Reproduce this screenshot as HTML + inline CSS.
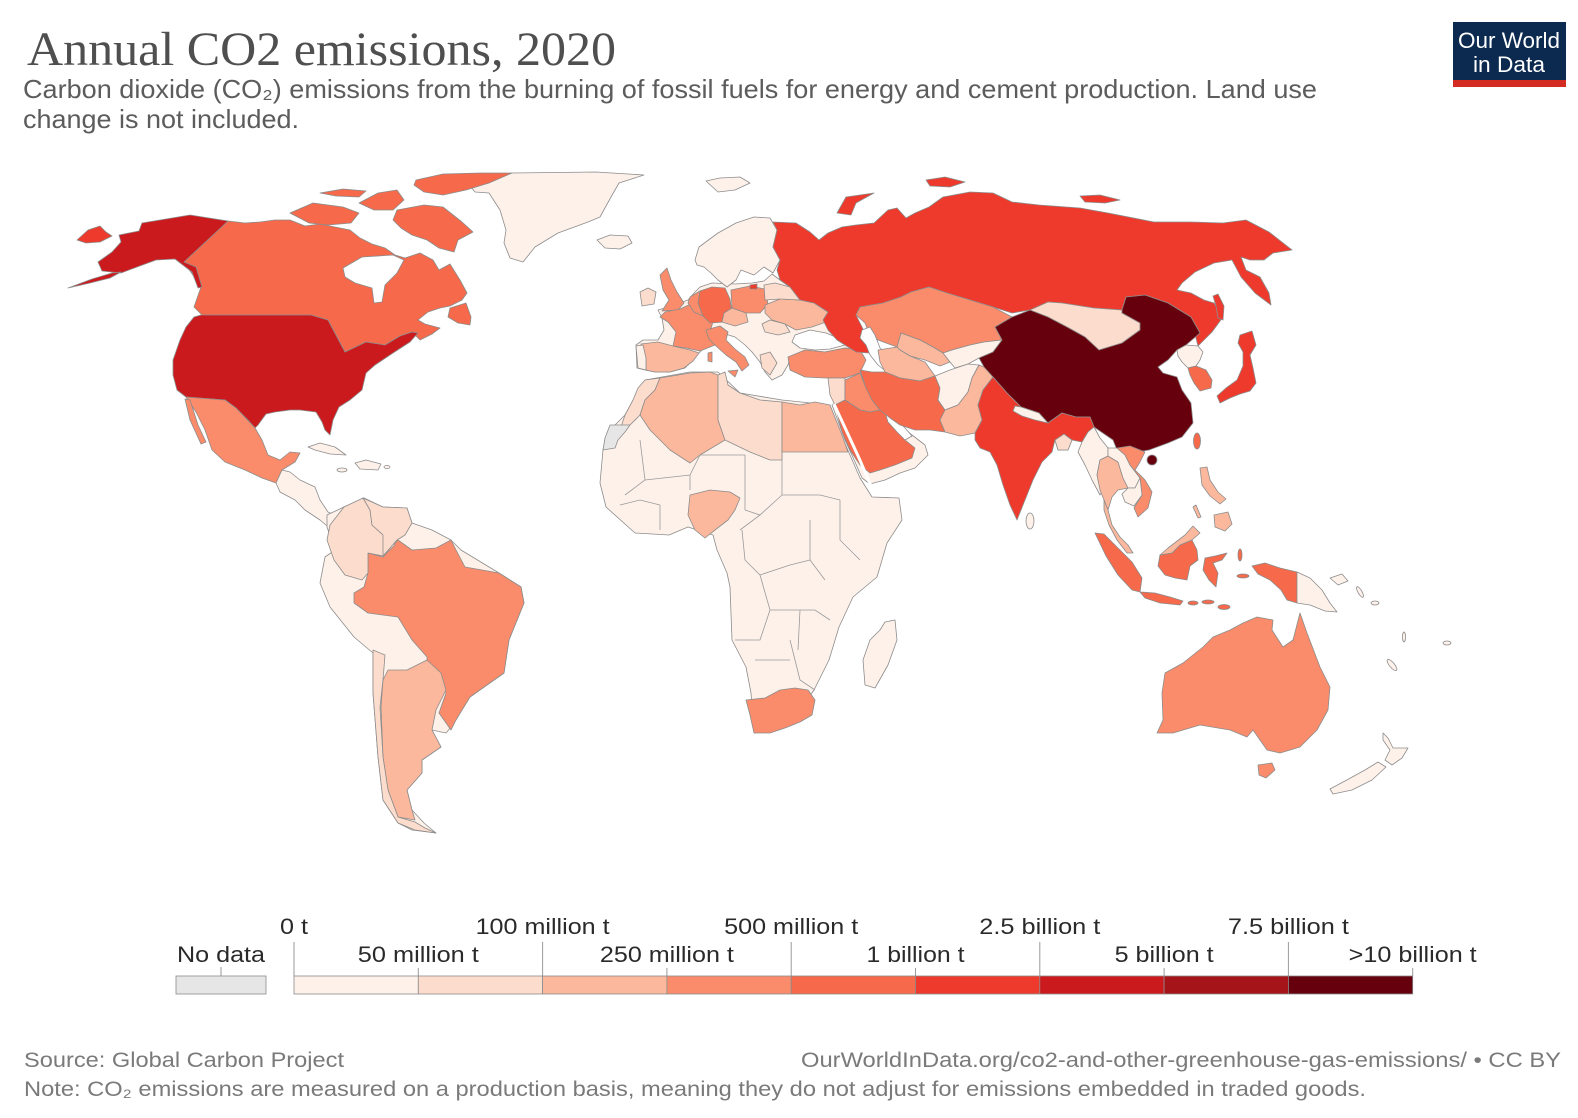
<!DOCTYPE html>
<html><head><meta charset="utf-8"><style>
html,body{margin:0;padding:0;background:#fff}
svg{display:block}
.m polygon,.m ellipse,.m circle{stroke:#8c8c8c;stroke-width:0.8;stroke-linejoin:round}
.c1{fill:#fef1ea}.c2{fill:#fcdccc}.c3{fill:#fbb89d}.c4{fill:#fa8c6b}.c5{fill:#f6694a}.c6{fill:#ee3a2c}.c7{fill:#cb1a1e}.c8{fill:#a51419}.c9{fill:#67000d}.nd{fill:#e6e6e6}.w{fill:#fff}
.b{fill:none;stroke:#9a9a9a;stroke-width:0.8}
text{font-family:"Liberation Sans",Arial,sans-serif}
</style></head><body>
<svg width="1578" height="1118" viewBox="0 0 1578 1118" xmlns="http://www.w3.org/2000/svg">
<rect width="1578" height="1118" fill="#fff"/>
<!-- Header -->
<text x="27" y="65" style="font-family:'Liberation Serif',serif" font-size="48" fill="#4f4f4f" textLength="589" lengthAdjust="spacingAndGlyphs">Annual CO2 emissions, 2020</text>
<text x="23" y="98" font-size="26" fill="#5c5c5c" textLength="1294" lengthAdjust="spacingAndGlyphs">Carbon dioxide (CO₂) emissions from the burning of fossil fuels for energy and cement production. Land use</text>
<text x="23" y="128" font-size="26" fill="#5c5c5c" textLength="276" lengthAdjust="spacingAndGlyphs">change is not included.</text>
<rect x="1453" y="22" width="113" height="58" fill="#0c2a4f"/>
<rect x="1453" y="80" width="113" height="7" fill="#d42b22"/>
<text x="1509" y="48" font-size="22" fill="#fff" text-anchor="middle" textLength="102" lengthAdjust="spacingAndGlyphs">Our World</text>
<text x="1509" y="72" font-size="22" fill="#fff" text-anchor="middle" textLength="72" lengthAdjust="spacingAndGlyphs">in Data</text>

<g class="m">
<!-- Greenland -->
<polygon class="c1" points="471,187 512,173 596,172 644,175 619,183 611,197 600,217 588,222 558,233 535,247 523,262 510,258 504,243 506,230 500,210 489,193 475,192"/>
<polygon class="c1" points="597,240 610,235 628,236 632,243 620,249 605,248"/>
<polygon class="c1" points="706,181 720,178 740,177 750,183 735,190 718,192"/>
<!-- Canada -->
<polygon class="c5" points="228,221 245,223 260,222 275,220 290,220 305,226 320,224 335,227 350,230 360,238 372,244 385,248 395,255 405,258 420,253 433,260 439,270 450,264 460,280 467,293 462,300 450,306 440,308 428,312 418,320 425,324 440,328 432,334 420,340 412,332 400,336 385,345 366,342 345,352 328,320 311,315 202,315 194,307 201,287 184,262"/>
<polygon class="w" points="343,268 362,257 393,255 404,260 397,273 385,285 382,302 374,303 372,288 355,283 345,277"/>
<polygon class="c5" points="416,180 443,174 481,173 512,173 489,183 466,190 443,195 424,192 414,185"/>
<polygon class="c5" points="397,210 424,205 443,207 462,222 473,232 458,240 454,252 439,248 427,240 412,235 401,228 393,220"/>
<polygon class="c5" points="290,213 313,203 343,207 359,213 351,223 328,225 309,223"/>
<polygon class="c5" points="359,203 378,193 397,190 404,200 393,210 374,210"/>
<polygon class="c5" points="320,193 343,189 366,191 359,197 336,196"/>
<polygon class="c5" points="450,308 466,303 471,317 470,325 458,323 448,317"/>
<!-- Alaska -->
<polygon class="c7" points="142,223 190,215 228,221 184,262 196,267 202,287 198,288 192,272 175,259 156,260 137,267 121,273 102,271 98,262 112,252 121,242 119,235 139,231"/>
<polygon class="c7" points="121,272 110,278 90,283 68,288 92,279 112,273"/>
<polygon class="c6" points="77,240 88,230 100,226 106,232 112,236 100,242 86,243"/>
<!-- USA -->
<polygon class="c7" points="201,315 311,315 328,320 345,352 366,342 385,345 400,336 412,332 418,333 410,342 393,353 375,365 366,373 362,390 350,400 339,407 333,420 330,435 325,430 322,422 316,412 300,410 290,410 275,412 266,414 258,425 255,428 248,420 236,408 225,400 186,397 177,390 173,375 173,360 180,340 186,327 194,317"/>
<!-- Mexico -->
<polygon class="c4" points="186,397 225,400 236,408 255,428 262,440 268,455 280,460 290,452 300,453 295,462 282,470 276,483 262,478 245,470 225,462 212,450 205,430 196,412"/>
<polygon class="c4" points="185,399 190,400 198,425 206,442 201,444 190,420"/>
<!-- Central America / Caribbean -->
<polygon class="c1" points="276,483 282,470 290,472 300,480 315,487 320,500 328,512 345,520 345,528 332,530 320,520 305,510 295,500 280,492"/>
<polygon class="c1" points="308,447 320,443 335,447 346,455 330,454 315,450"/>
<polygon class="c1" points="355,463 366,460 381,464 378,470 360,469"/>
<ellipse class="c1" cx="342" cy="470" rx="5" ry="2"/>
<ellipse class="c1" cx="387" cy="467" rx="3" ry="1.5"/>
<!-- South America -->
<polygon class="c1" points="327,515 344,507 364,498 383,507 407,508 412,523 432,530 451,540 461,550 499,573 521,587 524,603 509,640 504,673 470,697 451,727 446,733 432,730 441,747 422,760 422,773 407,790 412,810 424,823 436,833 412,830 398,823 383,800 378,757 373,693 373,653 354,637 330,607 320,583 325,557 335,550 327,527"/>
<polygon class="c4" points="368,553 383,557 398,540 412,550 436,548 451,540 456,550 465,567 499,573 521,587 524,603 509,640 504,673 470,697 456,720 451,730 439,713 446,693 439,673 427,670 427,657 412,640 398,617 368,613 354,603 354,593 364,587 368,573"/>
<polygon class="c3" points="388,670 407,670 427,660 441,673 446,690 436,710 432,730 441,747 422,760 422,773 407,790 412,810 415,820 398,817 388,790 383,757 381,707 383,680"/>
<polygon class="c2" points="373,650 385,655 383,680 380,707 383,757 388,790 398,817 415,822 425,828 436,833 415,830 398,823 383,800 378,757 373,693"/>
<polygon class="c2" points="344,507 363,498 370,510 372,525 383,535 395,545 383,556 368,553 368,573 362,580 345,575 334,560 327,540 330,525"/>
<polygon class="c2" points="363,498 383,507 407,508 412,523 405,535 397,540 383,556 383,535 372,525 370,510"/>
<!-- Africa -->
<polygon class="c1" points="645,380 690,372 718,372 740,393 782,400 830,405 840,432 850,455 860,478 872,497 899,498 902,520 887,543 877,577 853,597 839,627 829,660 814,690 800,710 776,730 754,733 751,693 746,667 732,640 730,587 727,573 717,550 713,535 688,527 669,535 635,533 606,507 600,483 603,450 610,430 625,415 635,398"/>
<path class="b" d="M640,440 L645,480 L625,495 M645,480 L690,475 L700,455 M700,455 L745,455 M745,455 L745,510 M782,450 L782,495 L760,515 L745,510 M782,495 L820,495 L840,500 M690,490 L690,475 M660,505 L660,530 M740,530 L760,515 M742,530 L745,560 L760,575 L790,565 L810,560 M810,520 L810,560 L825,580 M760,575 L770,610 L760,640 L735,640 M770,610 L815,610 L830,620 M790,640 L800,680 L815,690 M755,660 L790,660 M800,610 L798,650 M840,500 L840,540 L860,560 M620,505 L640,500 L660,505 M700,500 L700,525"/>
<polygon class="c2" points="645,380 660,378 655,390 645,400 640,415 630,425 620,430 625,415 633,400 638,388"/>
<polygon class="nd" points="610,425 630,425 625,432 618,440 615,448 603,450 605,438"/>
<polygon class="c3" points="660,378 690,373 710,372 718,375 718,420 725,440 700,455 690,463 670,450 650,430 640,415 645,400 655,390"/>
<polygon class="c2" points="718,375 725,372 728,385 740,393 760,400 782,402 782,460 770,460 750,452 725,440 718,420"/>
<polygon class="c3" points="782,402 800,405 815,402 830,405 836,420 842,435 848,452 782,452"/>
<polygon class="c3" points="690,495 710,490 730,492 740,498 735,510 728,520 715,530 705,538 695,530 688,515"/>
<polygon class="c4" points="746,700 765,698 780,690 795,688 808,690 815,700 812,715 800,722 785,728 770,733 754,733 750,715"/>
<polygon class="c1" points="885,622 895,620 897,640 888,665 875,688 865,685 863,660 870,640 880,630"/>
<!-- Europe -->
<polygon class="c1" points="636,345 643,340 658,340 664,330 662,318 658,310 672,306 688,300 695,292 700,287 712,283 735,284 752,283 764,281 772,274 780,280 790,287 800,300 814,303 828,312 838,320 845,332 856,337 862,347 860,350 845,348 825,352 805,350 790,357 788,365 782,375 772,380 765,372 760,362 752,352 745,345 735,337 722,333 712,340 700,352 685,368 670,372 655,372 645,370 637,368"/>
<polygon class="c1" points="695,260 699,247 718,233 736,223 754,217 770,218 777,230 773,247 780,260 773,273 764,267 754,275 741,270 736,280 727,287 718,280 711,273 704,267 697,265"/>
<polygon class="c4" points="660,275 667,268 671,280 677,292 684,303 678,310 662,311 669,300 663,290"/>
<polygon class="c2" points="640,292 648,288 656,292 654,304 642,306"/>
<polygon class="c4" points="665,312 680,309 693,303 706,308 714,318 710,332 715,345 700,351 686,348 673,346 676,332 668,322 660,317"/>
<polygon class="c3" points="641,344 658,342 673,346 690,350 699,353 693,361 684,368 670,372 655,372 646,370 646,358 641,352"/>
<polygon class="c1" points="636,346 643,345 646,358 646,370 638,368"/>
<polygon class="c5" points="700,291 712,287 725,288 730,299 732,313 724,322 710,323 703,316 698,303"/>
<polygon class="c4" points="690,297 700,291 698,303 703,316 694,312 688,303"/>
<polygon class="c4" points="731,290 750,286 765,289 768,304 760,313 746,313 732,308"/>
<polygon class="c3" points="724,313 732,308 746,313 748,322 735,326 722,322"/>
<polygon class="c4" points="706,330 720,326 728,332 726,340 735,349 745,357 749,365 742,371 736,362 726,355 716,346 709,339"/>
<polygon class="c4" points="728,371 738,370 735,377"/>
<polygon class="c4" points="708,353 712,352 712,362 708,361"/>
<polygon class="c3" points="765,305 780,299 800,300 814,303 828,312 826,322 812,327 796,330 785,324 772,320 765,313"/>
<polygon class="c2" points="764,285 775,283 790,287 800,300 780,299 765,300"/>
<polygon class="c2" points="770,320 785,324 790,332 778,335 765,332 762,324"/>
<polygon class="c2" points="760,355 770,352 777,363 770,375 762,368"/>
<polygon class="w" points="795,335 810,330 826,333 838,338 845,345 830,349 815,350 800,348 792,342"/>
<polygon class="c4" points="788,357 805,350 825,352 845,348 860,350 866,360 860,373 845,378 825,378 805,377 790,370"/>
<!-- Russia -->
<polygon class="c6" points="773,222 796,223 810,232 819,240 828,233 842,227 856,225 874,223 888,210 897,208 906,218 915,213 929,207 943,197 970,192 993,193 1012,202 1039,205 1080,208 1108,213 1154,222 1191,222 1223,223 1246,220 1269,232 1292,250 1273,253 1264,260 1250,260 1241,257 1246,270 1260,277 1269,293 1271,305 1255,293 1241,277 1232,260 1214,263 1195,272 1182,283 1177,290 1191,293 1204,300 1214,303 1223,317 1212,332 1198,346 1196,338 1191,317 1168,303 1145,295 1126,297 1122,310 1094,308 1062,303 1048,302 1030,310 1012,313 993,307 970,300 947,293 929,287 911,292 901,297 883,303 860,307 856,315 865,333 869,353 856,352 837,340 828,330 823,320 828,312 814,303 800,300 790,287 780,280 777,270 780,260 773,247 777,230"/>
<polygon class="c6" points="837,213 846,197 874,193 856,203 851,215"/>
<polygon class="c6" points="926,180 945,177 965,182 950,187 930,186"/>
<polygon class="c6" points="1080,196 1100,195 1120,200 1105,203 1085,202"/>
<polygon class="c6" points="1213,296 1218,294 1224,306 1223,320 1218,318 1216,306"/>
<polygon class="c6" points="750,285 757,284 757,289 750,289"/>
<!-- Central Asia -->
<polygon class="c4" points="860,307 883,303 901,297 911,292 929,287 947,293 970,300 993,307 1012,317 995,327 1002,340 984,342 970,345 952,350 943,353 933,347 920,340 901,333 897,347 878,340 869,333 865,323 856,315"/>
<polygon class="w" points="862,330 870,327 875,335 880,348 890,357 896,370 888,373 878,365 870,355 866,345 860,338"/>
<polygon class="c3" points="901,333 920,340 933,347 943,353 950,362 940,366 925,360 910,356 900,350 897,347"/>
<polygon class="c3" points="878,350 897,347 900,350 910,356 925,362 935,376 920,381 900,378 885,372 880,362"/>
<polygon class="c1" points="943,353 952,350 970,345 984,342 1002,340 993,352 979,358 968,364 955,368 950,362"/>
<!-- Middle East -->
<polygon class="c1" points="832,405 845,398 880,410 900,425 912,435 925,445 928,455 915,468 900,473 885,480 870,484 862,478 855,462 845,440"/>
<polygon class="c2" points="828,378 845,378 845,400 835,405 830,395"/>
<polygon class="c4" points="845,380 860,373 866,388 872,400 880,410 870,412 860,410 845,400"/>
<polygon class="c5" points="835,405 845,400 860,410 870,412 880,410 890,418 900,425 905,440 915,448 912,458 895,465 880,470 870,473 860,465 850,450 842,432"/>
<polygon class="w" points="885,412 895,418 905,428 912,436 905,440 897,432 888,422"/>
<polygon class="c5" points="860,370 872,372 885,372 900,378 920,381 935,376 940,388 938,400 945,410 940,420 945,432 930,430 915,430 900,425 890,418 880,410 872,400 866,388"/>
<polygon class="c1" points="935,376 950,370 968,364 979,365 972,378 968,392 958,405 945,410 938,400 940,388"/>
<polygon class="c3" points="979,365 984,367 993,377 983,390 978,405 982,420 975,433 960,436 945,432 940,420 945,410 958,405 968,392 972,378"/>
<path d="M834,404 L847,432 L859,458 L871,486" fill="none" stroke="#fff" stroke-width="3"/>
<!-- East Asia -->
<polygon class="c2" points="1030,310 1048,302 1062,303 1094,308 1122,310 1122,313 1140,323 1140,330 1122,343 1099,350 1085,337 1067,327 1048,317"/>
<polygon class="c9" points="1126,297 1145,295 1168,303 1191,317 1200,333 1186,345 1177,350 1168,360 1158,367 1163,373 1177,377 1182,390 1191,403 1193,423 1182,437 1168,443 1149,450 1131,453 1117,450 1113,440 1094,427 1090,417 1076,417 1062,413 1048,423 1039,413 1021,407 1007,393 993,377 984,367 979,358 993,352 1002,340 995,327 1012,317 1030,310 1048,317 1067,327 1085,337 1099,350 1122,343 1140,330 1140,323 1122,313 1122,310"/>
<circle class="c9" cx="1152" cy="460" r="5"/>
<ellipse class="c5" cx="1197" cy="441" rx="3.5" ry="8"/>
<polygon class="c1" points="1177,350 1186,345 1198,346 1203,352 1200,360 1196,366 1188,368 1182,362 1178,356"/>
<polygon class="c5" points="1188,368 1196,366 1206,370 1212,380 1211,388 1200,391 1194,383 1190,375"/>
<polygon class="c6" points="1240,335 1252,331 1256,345 1250,355 1253,368 1256,383 1250,391 1240,394 1230,398 1220,403 1217,396 1226,388 1237,380 1243,366 1243,352 1238,343"/>
<!-- South Asia -->
<polygon class="c6" points="983,390 993,377 1007,393 1021,407 1039,413 1048,423 1062,413 1076,417 1090,417 1094,427 1088,432 1082,442 1072,440 1068,450 1058,450 1055,440 1052,452 1042,462 1033,480 1025,500 1017,520 1010,505 1003,485 997,465 990,452 980,448 975,440 975,433 982,420 978,405"/>
<polygon class="c1" points="1015,406 1021,407 1039,413 1048,423 1035,420 1022,416 1013,411"/>
<polygon class="c2" points="1055,440 1058,450 1068,450 1072,440 1064,434"/>
<ellipse class="c1" cx="1030" cy="521" rx="4" ry="8"/>
<polygon class="c1" points="1088,432 1094,427 1100,438 1108,448 1108,456 1100,460 1097,475 1103,490 1100,495 1092,480 1085,465 1078,452 1082,442"/>
<polygon class="c3" points="1100,460 1108,456 1118,462 1123,478 1128,488 1118,490 1112,497 1108,510 1104,500 1100,490 1097,475"/>
<polygon class="c1" points="1108,448 1117,448 1125,455 1130,465 1140,478 1135,488 1128,488 1123,478 1118,462 1108,456"/>
<polygon class="c4" points="1117,448 1130,446 1145,452 1140,462 1135,470 1145,480 1152,492 1148,508 1138,517 1134,508 1142,495 1140,478 1130,465 1125,455"/>
<polygon class="c1" points="1128,488 1135,488 1140,478 1142,495 1134,506 1125,502 1122,494"/>
<polygon class="c3" points="1104,500 1108,510 1112,525 1120,537 1128,545 1133,553 1127,553 1117,540 1109,525 1104,510"/>
<!-- Maritime SE Asia -->
<polygon class="c5" points="1095,533 1104,534 1118,548 1132,562 1142,578 1140,592 1132,590 1118,575 1106,556"/>
<polygon class="c5" points="1140,592 1155,593 1170,597 1183,601 1180,605 1160,603 1145,598"/>
<polygon class="c5" points="1160,555 1172,553 1180,545 1192,540 1197,550 1198,560 1190,566 1187,580 1175,578 1165,575 1158,566"/>
<polygon class="c3" points="1168,548 1185,535 1193,526 1200,533 1192,540 1180,545 1172,553 1160,555"/>
<polygon class="c5" points="1205,558 1215,556 1227,553 1222,560 1213,563 1218,573 1216,587 1209,580 1203,570"/>
<ellipse class="c5" cx="1193" cy="603" rx="5" ry="2"/>
<ellipse class="c5" cx="1208" cy="602" rx="6" ry="2"/>
<ellipse class="c5" cx="1224" cy="607" rx="6" ry="2.5"/>
<ellipse class="c5" cx="1240" cy="555" rx="2" ry="6"/>
<ellipse class="c5" cx="1243" cy="576" rx="6" ry="2"/>
<polygon class="c5" points="1252,566 1265,563 1280,568 1297,572 1297,603 1287,600 1281,590 1270,580 1258,574"/>
<polygon class="c1" points="1297,572 1310,578 1322,590 1330,603 1337,612 1325,611 1310,605 1297,603"/>
<polygon class="c1" points="1330,578 1342,574 1348,581 1338,585"/>
<polygon class="c3" points="1200,468 1207,467 1210,480 1218,492 1226,499 1220,504 1210,496 1202,485"/>
<polygon class="c3" points="1214,515 1228,512 1232,524 1225,531 1215,527"/>
<polygon class="c3" points="1193,507 1196,505 1201,517 1198,518"/>
<!-- Oceania -->
<polygon class="c4" points="1157,733 1163,720 1162,693 1165,673 1183,663 1203,647 1213,637 1230,630 1243,623 1257,617 1273,620 1272,630 1283,647 1293,640 1300,613 1307,633 1320,667 1330,687 1328,710 1317,730 1300,747 1280,753 1267,750 1253,730 1247,737 1230,730 1200,725 1173,733"/>
<polygon class="c4" points="1258,765 1272,763 1275,770 1266,778 1259,775"/>
<polygon class="c1" points="1383,733 1388,738 1393,748 1408,748 1402,758 1392,765 1385,760 1390,750 1383,740"/>
<polygon class="c1" points="1378,762 1386,767 1372,780 1352,790 1333,794 1330,789 1345,781 1365,770"/>
<ellipse class="c1" cx="1360" cy="592" rx="2" ry="6" transform="rotate(-30 1360 592)"/>
<ellipse class="c1" cx="1375" cy="603" rx="4" ry="2"/>
<ellipse class="c1" cx="1404" cy="637" rx="1.5" ry="5"/>
<ellipse class="c1" cx="1392" cy="665" rx="2.5" ry="7" transform="rotate(-40 1392 665)"/>
<ellipse class="c1" cx="1447" cy="643" rx="4" ry="2"/>
</g>

<!-- Legend -->
<g font-size="22" fill="#2a2a2a" text-anchor="middle">
<text x="221" y="962" textLength="88" lengthAdjust="spacingAndGlyphs">No data</text>
<text x="294" y="934" textLength="28" lengthAdjust="spacingAndGlyphs">0 t</text>
<text x="542.6" y="934" textLength="134" lengthAdjust="spacingAndGlyphs">100 million t</text>
<text x="791.2" y="934" textLength="134" lengthAdjust="spacingAndGlyphs">500 million t</text>
<text x="1039.8" y="934" textLength="121" lengthAdjust="spacingAndGlyphs">2.5 billion t</text>
<text x="1288.4" y="934" textLength="121" lengthAdjust="spacingAndGlyphs">7.5 billion t</text>
<text x="418.3" y="962" textLength="121" lengthAdjust="spacingAndGlyphs">50 million t</text>
<text x="666.9" y="962" textLength="134" lengthAdjust="spacingAndGlyphs">250 million t</text>
<text x="915.5" y="962" textLength="98" lengthAdjust="spacingAndGlyphs">1 billion t</text>
<text x="1164.1" y="962" textLength="99" lengthAdjust="spacingAndGlyphs">5 billion t</text>
<text x="1412.7" y="962" textLength="128" lengthAdjust="spacingAndGlyphs">&gt;10 billion t</text>
</g>
<g stroke="#9a9a9a" stroke-width="1">
<line x1="221" y1="967" x2="221" y2="976"/>
<line x1="294" y1="942" x2="294" y2="976"/>
<line x1="542.6" y1="942" x2="542.6" y2="976"/>
<line x1="791.2" y1="942" x2="791.2" y2="976"/>
<line x1="1039.8" y1="942" x2="1039.8" y2="976"/>
<line x1="1288.4" y1="942" x2="1288.4" y2="976"/>
<line x1="418.3" y1="968" x2="418.3" y2="976"/>
<line x1="666.9" y1="968" x2="666.9" y2="976"/>
<line x1="915.5" y1="968" x2="915.5" y2="976"/>
<line x1="1164.1" y1="968" x2="1164.1" y2="976"/>
<line x1="1412.7" y1="968" x2="1412.7" y2="976"/>
</g>
<g stroke="#8c8c8c" stroke-width="0.8">
<rect x="176" y="976" width="90" height="18" fill="#e6e6e6"/>
<rect x="294" y="976" width="124.3" height="18" fill="#fef1ea"/>
<rect x="418.3" y="976" width="124.3" height="18" fill="#fcdccc"/>
<rect x="542.6" y="976" width="124.3" height="18" fill="#fbb89d"/>
<rect x="666.9" y="976" width="124.3" height="18" fill="#fa8c6b"/>
<rect x="791.2" y="976" width="124.3" height="18" fill="#f6694a"/>
<rect x="915.5" y="976" width="124.3" height="18" fill="#ee3a2c"/>
<rect x="1039.8" y="976" width="124.3" height="18" fill="#cb1a1e"/>
<rect x="1164.1" y="976" width="124.3" height="18" fill="#a51419"/>
<rect x="1288.4" y="976" width="124.3" height="18" fill="#67000d"/>
</g>

<!-- Footer -->
<text x="24" y="1067" font-size="21" fill="#7a7a7a" textLength="320" lengthAdjust="spacingAndGlyphs">Source: Global Carbon Project</text>
<text x="1561" y="1067" font-size="21" fill="#7a7a7a" text-anchor="end" textLength="760" lengthAdjust="spacingAndGlyphs">OurWorldInData.org/co2-and-other-greenhouse-gas-emissions/ • CC BY</text>
<text x="24" y="1096" font-size="21" fill="#7a7a7a" textLength="1342" lengthAdjust="spacingAndGlyphs">Note: CO₂ emissions are measured on a production basis, meaning they do not adjust for emissions embedded in traded goods.</text>
</svg>
</body></html>
